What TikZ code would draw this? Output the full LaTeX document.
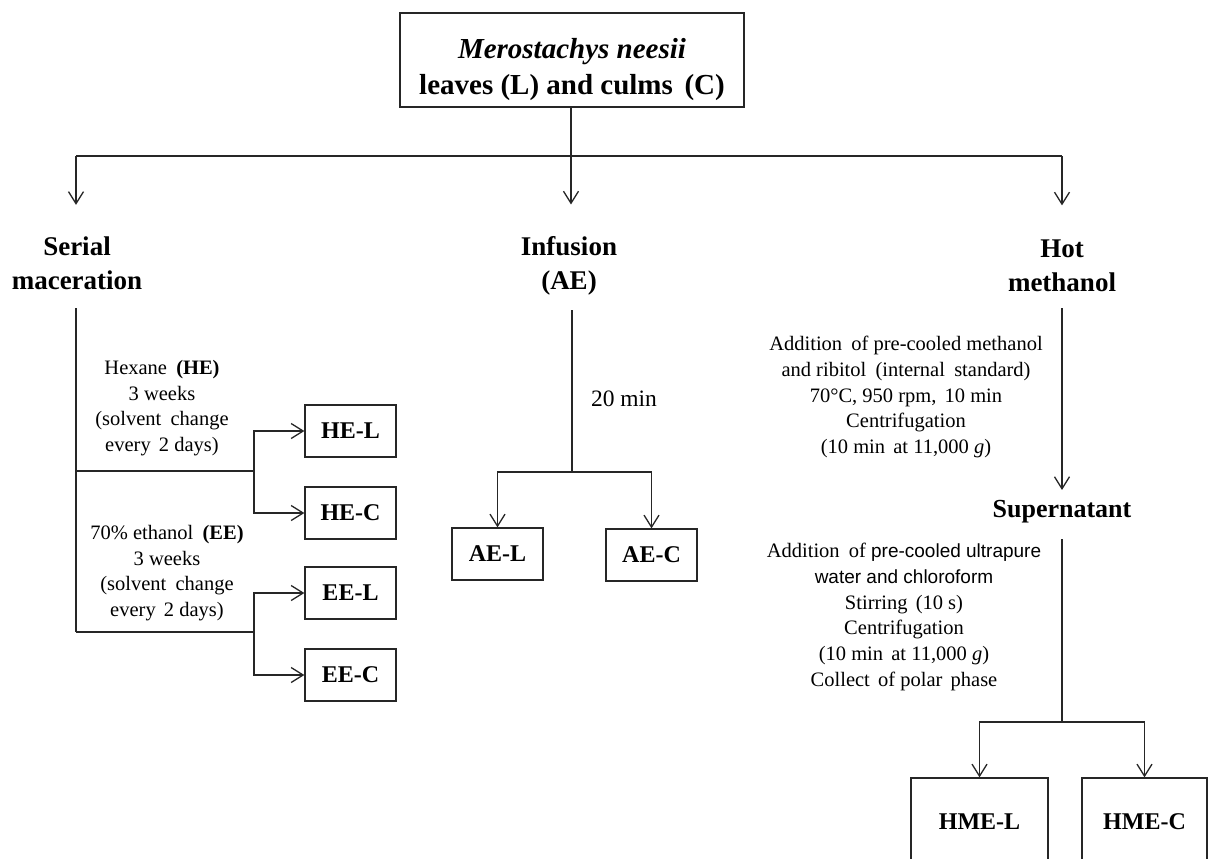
\documentclass[tikz,border=0pt]{standalone}
\usepackage{fontspec}
\setmainfont{Liberation Serif}
\newfontfamily\arialfont{Liberation Sans}
\usetikzlibrary{arrows.meta}
\newcommand\bodyfont{\fontsize{20.5}{25.8}\selectfont}
\newcommand\headfont{\fontsize{27}{34}\selectfont\bfseries}
\newcommand\boxfont{\fontsize{24}{28}\selectfont\bfseries}
\begin{document}
\begin{tikzpicture}[x=1pt,y=-1pt,
  line width=1.3pt, draw=black!85,
  arr/.style={-{Straight Barb[length=12pt,width=15pt,line width=1.3pt]}},
  head/.style={inner sep=0pt, align=center, font=\headfont},
  body/.style={inner sep=0pt, align=center, font=\bodyfont},
  resbox/.style={draw, line width=1.3pt, minimum width=91pt, minimum height=52pt, inner sep=0pt, font=\boxfont},
  hmebox/.style={draw, line width=1.3pt, minimum height=88pt, inner sep=0pt, font=\boxfont}]
\useasboundingbox (0,0) rectangle (1208,859);
\clip (0,0) rectangle (1208,859);
\fill[white] (0,0) rectangle (1208,859);

% source
\node[draw, line width=1.3pt, minimum width=344pt, minimum height=94pt, inner sep=0pt] (src) at (572,60) {};
\node[inner sep=0pt, align=center, font=\fontsize{29}{36}\selectfont\bfseries] (srct) at (572,70)
  {\textit{Merostachys neesii}\\leaves (L) and culms\hspace{0.15em} (C)};

% headings
\node[head] (serial) at (77,263) {Serial\\maceration};
\node[head] (infusion) at (569,265.5) {Infusion\\(AE)};
\node[head] (hot) at (1062,266) {Hot\\methanol};
\node[inner sep=0pt, font=\fontsize{26}{30}\selectfont\bfseries] (sup) at (1062,512) {Supernatant};

% top split
\coordinate (sl) at (76,156);
\coordinate (sm) at (571,156);
\coordinate (sr) at (1062,156);
\draw (sl) -- (sr);
\draw[arr, shorten >=31pt] (sl) -- (sl |- serial.north);
\draw[arr, shorten >=31pt] (src.south -| sm) -- (sm |- infusion.north);
\draw[arr, shorten >=34pt] (sr) -- (sr |- hot.north);

% ---------- serial maceration ----------
\node[resbox] (HEL) at (350.5,431) {HE-L};
\node[resbox] (HEC) at (350.5,513) {HE-C};
\node[resbox] (EEL) at (350.5,593) {EE-L};
\node[resbox] (EEC) at (350.5,675) {EE-C};
\coordinate (lt) at (76,308);
\coordinate (lb) at (76,632);
\coordinate (l1) at (76,471);
\coordinate (b1) at (254,471);
\coordinate (b2) at (254,632);
\draw (lt) -- (lb);
\draw (l1) -- (b1);
\draw (lb) -- (b2);
\draw[arr] (b1) |- (HEL.west);
\draw[arr] (b1) |- (HEC.west);
\draw[arr] (b2) |- (EEL.west);
\draw[arr] (b2) |- (EEC.west);
\node[body] (hex) at (162,408) {Hexane\hspace{0.2em} \textbf{(HE)}\\3 weeks\\(solvent\hspace{0.2em} change\\every\hspace{0.15em} 2 days)};
\node[body] (eth) at (167,573) {70\% ethanol\hspace{0.2em} \textbf{(EE)}\\3 weeks\\(solvent\hspace{0.2em} change\\every\hspace{0.15em} 2 days)};

% ---------- infusion ----------
\node[resbox] (AEL) at (497.5,554) {AE-L};
\node[resbox] (AEC) at (651.5,555) {AE-C};
\coordinate (it) at (572,310);
\coordinate (ib) at (572,472);
\draw (it) -- (ib);
\draw[arr] (ib) -| (AEL.north);
\draw[arr] (ib) -| (AEC.north);
\node[inner sep=0pt, font=\fontsize{23.5}{27}\selectfont] (tmin) at (624,399) {20 min};

% ---------- hot methanol ----------
\coordinate (ht) at (1062,308);
\draw[arr, shorten >=10pt] (ht) -- (sup.north);
\node[body] (m1) at (906,397) {Addition\hspace{0.2em} of pre-cooled methanol\\and ribitol\hspace{0.2em} (internal\hspace{0.2em} standard)\\70°C, 950 rpm,\hspace{0.15em} 10 min\\Centrifugation\\(10 min\hspace{0.15em} at 11,000 \textit{g})};
\coordinate (st) at (1062,539);
\coordinate (sb) at (1062,722);
\draw (st) -- (sb);
\node[hmebox, minimum width=137pt] (HMEL) at (979.5,822) {HME-L};
\node[hmebox, minimum width=125pt] (HMEC) at (1144.5,822) {HME-C};
\draw[arr] (sb) -| (HMEL.north);
\draw[arr] (sb) -| (HMEC.north);
\node[body] (m2) at (904,617) {Addition\hspace{0.2em} of {\arialfont\fontsize{19}{25.8}\selectfont pre-cooled ultrapure}\\{\arialfont\fontsize{19}{25.8}\selectfont water and chloroform}\\Stirring\hspace{0.15em} (10 s)\\Centrifugation\\(10 min\hspace{0.15em} at 11,000 \textit{g})\\Collect\hspace{0.15em} of polar\hspace{0.15em} phase};
\end{tikzpicture}
\end{document}
